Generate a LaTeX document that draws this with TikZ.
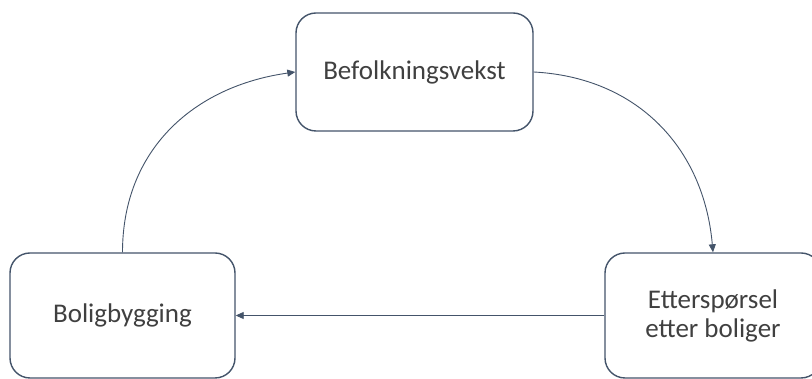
\documentclass[tikz,border=0pt]{standalone}
\usepackage{fontspec}
\setmainfont{Carlito}
\usetikzlibrary{arrows.meta}
\definecolor{edge}{HTML}{44546A}
\definecolor{txt}{HTML}{404040}
\tikzset{
  box/.style={draw=edge, line width=1.4pt, rounded corners=20pt, fill=white,
    text=txt, align=center, inner sep=0pt,
    font=\fontsize{27}{29}\selectfont},
  link/.style={draw=edge, line width=0.9pt, -{Triangle[length=8pt,width=7pt]}}
}
\begin{document}
\begin{tikzpicture}[x=1pt,y=1pt]
  \useasboundingbox (0,0) rectangle (812,379);
  \clip (0,0) rectangle (812,379);
  \fill[white] (0,0) rectangle (812,379);
  % the three stages of the cycle
  \node[box, minimum width=237pt, minimum height=118pt] (growth) at (414.5,307) {Befolkningsvekst};
  \node[box, minimum width=225pt, minimum height=125pt] (build) at (122.5,63.5) {Boligbygging};
  \node[box, minimum width=216pt, minimum height=125pt] (demand) at (713,63.5) {Etterspørsel\\etter boliger};
  % connectors
  \draw[link] (growth.east) to[out=-3, in=95, looseness=1.05] (demand.north);
  \draw[link] (demand.west) -- (build.east);
  \draw[link] (build.north) to[out=90, in=188, looseness=1.05] (growth.west);
\end{tikzpicture}
\end{document}
